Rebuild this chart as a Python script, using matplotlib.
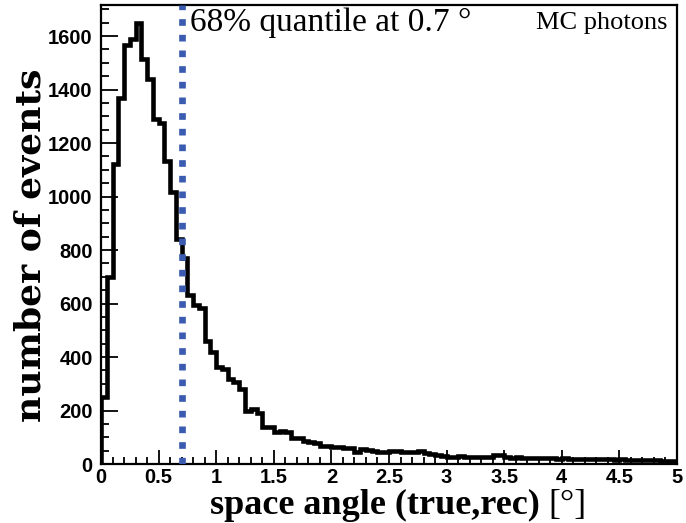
import numpy as np
import matplotlib
matplotlib.use("Agg")
import matplotlib.pyplot as plt
from matplotlib.ticker import MultipleLocator

# ---- data ----
bin_edges = np.linspace(0.0, 5.0, 101)
counts = [
    250, 700, 1120, 1370, 1565, 1588, 1650, 1514, 1440, 1290,
    1275, 1133, 1017, 841, 770, 632, 594, 582, 460, 419,
    363, 355, 318, 307, 280, 198, 205, 190, 138, 140,
    120, 123, 120, 97, 97, 86, 82, 80, 67, 67,
    64, 62, 60, 58, 45, 56, 52, 49, 45, 45,
    50, 48, 46, 44, 45, 48, 40, 36, 33, 30,
    28, 27, 29, 26, 27, 25, 26, 27, 34, 32,
    26, 24, 25, 23, 24, 22, 23, 21, 22, 20,
    21, 19, 20, 19, 18, 19, 18, 17, 18, 16,
    17, 16, 15, 16, 15, 14, 15, 13, 12, 12,
]
quantile_68 = 0.7
x_ticks = [0, 0.5, 1, 1.5, 2, 2.5, 3, 3.5, 4, 4.5, 5]
x_tick_labels = ["0", "0.5", "1", "1.5", "2", "2.5", "3", "3.5", "4", "4.5", "5"]
y_ticks = [0, 200, 400, 600, 800, 1000, 1200, 1400, 1600]

fig = plt.figure(figsize=(6.86, 5.23), dpi=100)
ax = fig.add_axes([101/686, (523-464)/523, (677-101)/686, (464-5)/523])

ax.stairs(counts, bin_edges, color="black", linewidth=3.3, baseline=0)
ax.axvline(quantile_68, color="#3a5bb0", linewidth=4.8,
           linestyle=(0, (1.0, 1.35)), dash_capstyle="butt", zorder=3)

ax.set_xlim(0, 5)
ax.set_ylim(0, 1716)
ax.set_xticks(x_ticks)
ax.set_xticklabels(x_tick_labels)
ax.set_yticks(y_ticks)
ax.xaxis.set_minor_locator(MultipleLocator(0.1))
ax.yaxis.set_minor_locator(MultipleLocator(50))

ax.tick_params(which="both", direction="in", top=False, right=False, width=1.3)
ax.tick_params(axis="y", which="major", length=12, pad=6)
ax.tick_params(axis="y", which="minor", length=6)
ax.tick_params(axis="x", which="major", length=10, pad=3)
ax.tick_params(axis="x", which="minor", length=5)
for lab in ax.get_xticklabels() + ax.get_yticklabels():
    lab.set_fontfamily("Liberation Sans")
    lab.set_fontweight("bold")
    lab.set_fontsize(14.5)

for sp in ax.spines.values():
    sp.set_linewidth(1.6)

# axis titles
fig.text(540/686, 1 - 514/523, "space angle (true,rec)", ha="right", va="baseline",
         family="Liberation Serif", fontweight="bold", fontsize=26)
fig.text(548/686, 1 - 514/523, "[°]", ha="left", va="baseline",
         family="Liberation Serif", fontsize=26)
fig.text(31/686, 1 - 245/523, "number of events", ha="center", va="center", rotation=90,
         family="DejaVu Serif", fontweight="bold", fontsize=26)

ax.text(0.77, 1648, "68% quantile at 0.7 °", ha="left", va="center",
        family="Liberation Serif", fontsize=24)
ax.text(4.92, 1648, "MC photons", ha="right", va="center",
        family="Liberation Serif", fontsize=19)

fig.savefig("out.png", dpi=100)
